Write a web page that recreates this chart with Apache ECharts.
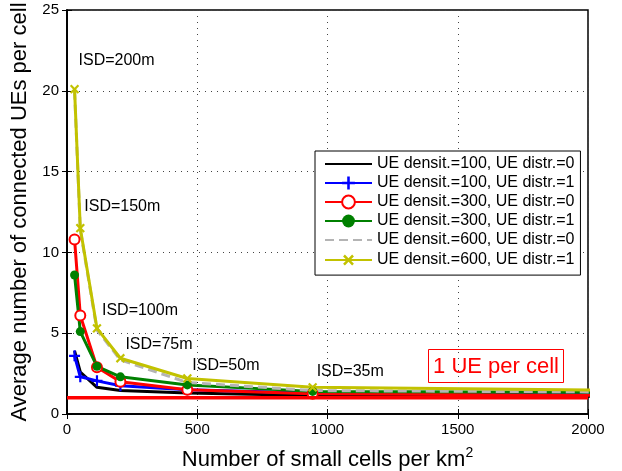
<!DOCTYPE html>
<html>
<head>
<meta charset="utf-8">
<script src="https://cdn.jsdelivr.net/npm/echarts@6/dist/echarts.min.js"></script>
<style>
html,body{margin:0;padding:0;background:#fff;}
#chart{width:622px;height:471px;}
</style>
</head>
<body>
<div id="chart"></div>
<script>
// small cells per km2 for ISD = 200,150,100,75,50,35m (and 20m, outside the axis)
var cellsPerKm2 = [29, 51, 115, 205, 462, 943, 2890];
var isdLabels = ['ISD=200m', 'ISD=150m', 'ISD=100m', 'ISD=75m', 'ISD=50m', 'ISD=35m'];

var ue100d0 = [3.9, 2.6, 1.65, 1.45, 1.3, 1.15, 1.05];
var ue100d1 = [3.6, 2.3, 2.05, 1.75, 1.5, 1.3, 1.15];
var ue300d0 = [10.8, 6.1, 2.9, 2.0, 1.5, 1.25, 1.1];
var ue300d1 = [8.6, 5.1, 2.95, 2.3, 1.8, 1.4, 1.3];
var ue600d0 = [20.0, 11.4, 5.2, 3.35, 1.95, 1.45, 1.3];
var ue600d1 = [20.1, 11.5, 5.3, 3.45, 2.2, 1.65, 1.35];

var oneUeX = [0, 2000];
var oneUeY = [1, 1];

var xTicks = [0, 500, 1000, 1500, 2000];
var yTicks = [0, 5, 10, 15, 20, 25];

function pairs(xs, ys){
	var out = [];
	for(var i=0;i<ys.length;i++){
		out.push([xs[i], ys[i]]);
	}
	return out;
}

var plusPath = 'path://M4,0H6V4H10V6H6V10H4V6H0V4H4Z';
var font = 'Liberation Sans, Arial';

var chart = echarts.init(document.getElementById('chart'));

var seriesList = [
	{name:'UE densit.=100, UE distr.=0', data:pairs(cellsPerKm2, ue100d0), color:'#000000', symbol:'none'},
	{name:'UE densit.=100, UE distr.=1', data:pairs(cellsPerKm2, ue100d1), color:'#0000ff', symbol:plusPath, symbolSize:11},
	{name:'UE densit.=300, UE distr.=0', data:pairs(cellsPerKm2, ue300d0), color:'#ff0000', symbol:'emptyCircle', symbolSize:10},
	{name:'UE densit.=300, UE distr.=1', data:pairs(cellsPerKm2, ue300d1), color:'#008000', symbol:'circle', symbolSize:9},
	{name:'UE densit.=600, UE distr.=0', data:pairs(cellsPerKm2, ue600d0), color:'#b4b4b4', symbol:'none', dash:[9,5]},
	{name:'UE densit.=600, UE distr.=1', data:pairs(cellsPerKm2, ue600d1), color:'#c2c200', symbol:plusPath, symbolSize:11, rotate:45}
];

var series = seriesList.map(function(s){
	return {
		name: s.name,
		type: 'line',
		data: s.data,
		symbol: s.symbol,
		symbolSize: s.symbolSize || 0,
		symbolRotate: s.rotate || 0,
		showSymbol: s.symbol != 'none',
		clip: true,
		z: 3,
		lineStyle: {color: s.color, width: 3, type: s.dash || 'solid'},
		itemStyle: {color: s.color, borderColor: s.color, borderWidth: s.symbol == 'emptyCircle' ? 2.5 : 0},
		emphasis: {disabled: true},
		animation: false
	};
});

// 1 UE per cell reference line
series.push({
	name: '1 UE per cell',
	type: 'line',
	data: pairs(oneUeX, oneUeY),
	symbol: 'none',
	z: 4,
	lineStyle: {color:'#ff0000', width:3.5},
	emphasis: {disabled: true},
	animation: false
});

var legendData = seriesList.map(function(s){
	var item = {name: s.name};
	if(s.symbol == 'none'){
		item.itemStyle = {opacity: 0};
	}
	return item;
});

var gridLine = {show:true, lineStyle:{color:'#444', type:[1,5], width:1}};
var axisText = {color:'#000', fontSize:15, fontFamily:font, formatter:function(v){ return String(v); }};

var option = {
	backgroundColor: '#fff',
	animation: false,
	grid: {left:67, right:34, top:10, bottom:57, show:true, borderColor:'#000', borderWidth:1.5, outerBoundsMode:'none', containLabel:false},
	legend: {
		data: legendData,
		orient: 'vertical',
		left: 315,
		top: 151,
		padding: [5, 6, 6, 9],
		itemGap: 3,
		itemWidth: 47,
		itemHeight: 16,
		backgroundColor: '#fff',
		borderColor: '#000',
		borderWidth: 1,
		textStyle: {color:'#000', fontSize:16, fontFamily:font},
		selectedMode: false
	},
	xAxis: [{
		type: 'value',
		min: 0, max: 2000, interval: 500,
		name: 'Number of small cells per km{sup|2}',
		nameLocation: 'middle',
		nameGap: 32,
		nameTextStyle: {color:'#000', fontSize:22, fontFamily:font,
			rich:{sup:{fontSize:14, verticalAlign:'top', padding:[0,0,14,0], color:'#000', fontFamily:font}}},
		axisLine: {show:true, lineStyle:{color:'#000', width:1.5}},
		axisTick: {show:true, inside:true, length:5, lineStyle:{color:'#000'}},
		axisLabel: axisText,
		splitLine: gridLine
	}, {
		type: 'value', position: 'top',
		min: 0, max: 2000, interval: 500,
		axisLine: {show:true, lineStyle:{color:'#000', width:1.5}},
		axisTick: {show:true, inside:true, length:5, lineStyle:{color:'#000'}},
		axisLabel: {show:false},
		splitLine: {show:false}
	}],
	yAxis: [{
		type: 'value',
		min: 0, max: 25, interval: 5,
		name: 'Average number of connected UEs per cell',
		nameLocation: 'middle',
		nameGap: 30,
		nameTextStyle: {color:'#000', fontSize:22, fontFamily:font},
		axisLine: {show:true, lineStyle:{color:'#000', width:1.5}},
		axisTick: {show:true, inside:true, length:5, lineStyle:{color:'#000'}},
		axisLabel: axisText,
		splitLine: gridLine
	}, {
		type: 'value', position: 'right',
		min: 0, max: 25, interval: 5,
		axisLine: {show:true, lineStyle:{color:'#000', width:1.5}},
		axisTick: {show:true, inside:true, length:5, lineStyle:{color:'#000'}},
		axisLabel: {show:false},
		splitLine: {show:false}
	}],
	series: series,
	graphic: []
};

chart.setOption(option);

// ISD annotations placed relative to the yellow point they describe
var isdOffsets = [[4, -37], [4, -30], [5, -26], [5, -22], [5, -21], [4, -24]];
var graphics = [];
for(var i=0;i<isdLabels.length;i++){
	var p = chart.convertToPixel({gridIndex:0}, [cellsPerKm2[i], ue600d1[i]]);
	graphics.push({
		type: 'text',
		left: p[0] + isdOffsets[i][0],
		top: p[1] + isdOffsets[i][1],
		style: {text: isdLabels[i], fill:'#000', font:'16px ' + font},
		z: 10
	});
}
graphics.push({
	type: 'group',
	left: 428,
	top: 349,
	z: 10,
	children: [
		{type:'rect', shape:{x:0, y:0, width:135, height:33}, style:{fill:'#fff', stroke:'#ff0000', lineWidth:1}},
		{type:'text', x:67.5, y:17, style:{text:'1 UE per cell', fill:'#ff0000', font:'22px ' + font, align:'center', verticalAlign:'middle'}}
	]
});
chart.setOption({graphic: graphics});
</script>
</body>
</html>
